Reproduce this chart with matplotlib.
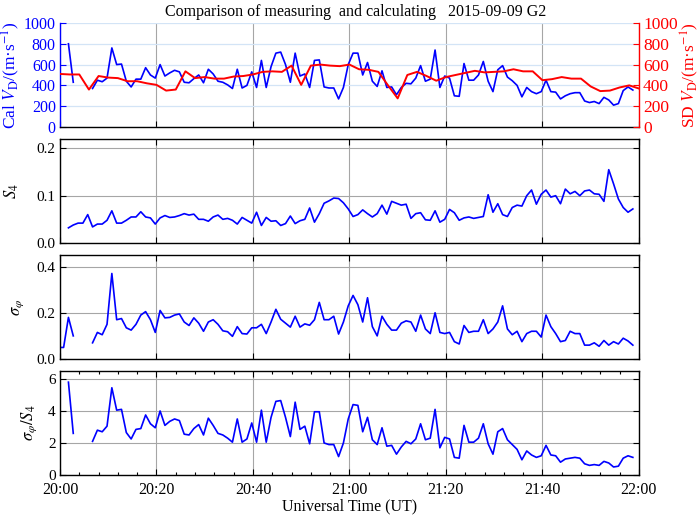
import numpy as np
import matplotlib
matplotlib.use('Agg')
import matplotlib.pyplot as plt
from matplotlib.ticker import MultipleLocator, FormatStrFormatter

plt.rcParams['font.family'] = ['Liberation Serif', 'DejaVu Serif']
plt.rcParams['mathtext.fontset'] = 'stix'
plt.rcParams['font.size'] = 11

nan = np.nan

# sample times, minutes after 20:00 UT (1-min data and 2-min SD data)
minutes = np.arange(120) - 0.25
sd_minutes = np.arange(0, 121, 2)

time_ticks = [0, 20, 40, 60, 80, 100, 120]
time_labels = ['20:00', '20:20', '20:40', '21:00', '21:20', '21:40', '22:00']

# calculated drift velocity (m/s)
cal_vd = [nan, nan, 800, 430, nan, nan, nan,
          370, 450, 435, 470, 760, 600, 605, 440, 385, 460, 460, 570, 500, 470,
          600, 490, 520, 545, 530, 430, 425, 465, 500, 425,
          555, 510, 440, 430, 405, 370, 555, 375, 400, 530,
          380, 640, 380, 580, 710, 720, 600, 430, 710, 490,
          510, 380, 640, 645, 385, 375, 375, 270, 380, 600,
          710, 710, 500, 620, 440, 390, 540, 380, 385, 310,
          380, 420, 415, 470, 590, 440, 460, 740, 380, 490,
          470, 300, 295, 610, 450, 450, 500, 630, 440, 340,
          550, 590, 480, 445, 400, 290, 380, 340, 320, 340,
          450, 340, 335, 270, 300, 320, 330, 330, 250, 235,
          245, 225, 285, 260, 210, 225, 350, 385, 355]

# SD drift velocity (m/s), 2-min
sd_vd = [510, 505, 505, 360, 490, 475, 470, 440, 440, 420,
         405, 350, 360, 535, 470, 480, 465, 465, 485, 490,
         505, 530, 535, 530, 590, 405, 590, 600, 590, 585,
         600, 555, 550, 530, 400, 275, 500, 530, 490, 445,
         480, 500, 520, 540, 525, 530, 535, 555, 535, 535,
         450, 460, 480, 465, 465, 390, 345, 350, 380, 400, 370]

s4 = [nan, nan, 0.032, 0.038, 0.042, 0.042, 0.060, 0.034, 0.040, 0.040, 0.048,
      0.068, 0.042, 0.042, 0.048, 0.055, 0.055, 0.066, 0.055, 0.053, 0.040,
      0.053, 0.058, 0.054, 0.055, 0.058, 0.062, 0.059, 0.061, 0.050, 0.050,
      0.046, 0.055, 0.059, 0.050, 0.052, 0.048, 0.040, 0.054, 0.048, 0.042,
      0.065, 0.037, 0.054, 0.046, 0.047, 0.037, 0.041, 0.057, 0.041, 0.047,
      0.050, 0.074, 0.044, 0.062, 0.084, 0.089, 0.095, 0.094, 0.085, 0.072,
      0.056, 0.060, 0.070, 0.062, 0.055, 0.062, 0.080, 0.061, 0.088, 0.084,
      0.080, 0.082, 0.052, 0.062, 0.064, 0.049, 0.048, 0.068, 0.044, 0.050,
      0.071, 0.064, 0.048, 0.053, 0.055, 0.052, 0.054, 0.056, 0.102, 0.065,
      0.083, 0.060, 0.056, 0.075, 0.080, 0.078, 0.100, 0.112, 0.082, 0.103,
      0.112, 0.097, 0.100, 0.083, 0.114, 0.104, 0.109, 0.100, 0.110, 0.112,
      0.104, 0.103, 0.088, 0.155, 0.125, 0.093, 0.075, 0.065, 0.072]

sigma_phi = [0.05, 0.05, 0.18, 0.10, nan, nan, nan, 0.07, 0.115, 0.105, 0.15,
             0.37, 0.17, 0.175, 0.135, 0.125, 0.15, 0.19, 0.205, 0.17, 0.115,
             0.21, 0.178, 0.18, 0.19, 0.195, 0.16, 0.145, 0.178, 0.155, 0.12,
             0.16, 0.17, 0.15, 0.122, 0.118, 0.098, 0.14, 0.11, 0.108, 0.135,
             0.135, 0.15, 0.11, 0.16, 0.215, 0.172, 0.155, 0.138, 0.185, 0.138,
             0.152, 0.146, 0.17, 0.245, 0.17, 0.17, 0.185, 0.108, 0.16, 0.23,
             0.275, 0.235, 0.16, 0.265, 0.14, 0.10, 0.185, 0.15, 0.125, 0.125,
             0.155, 0.165, 0.16, 0.12, 0.19, 0.13, 0.11, 0.20, 0.115, 0.11,
             0.115, 0.075, 0.065, 0.145, 0.115, 0.12, 0.12, 0.17, 0.11, 0.13,
             0.16, 0.23, 0.13, 0.105, 0.12, 0.075, 0.11, 0.12, 0.12, 0.095,
             0.19, 0.14, 0.11, 0.075, 0.08, 0.12, 0.11, 0.11, 0.06, 0.06,
             0.07, 0.055, 0.08, 0.06, 0.075, 0.065, 0.09, 0.078, 0.06]

ratio = [nan, nan, 5.8, 2.6, nan, nan, nan, 2.1, 2.8, 2.7, 3.05,
         5.45, 4.05, 4.1, 2.65, 2.25, 2.85, 2.9, 3.75, 3.2, 2.95,
         4.0, 3.1, 3.35, 3.5, 3.4, 2.55, 2.5, 2.9, 3.15, 2.5,
         3.55, 3.1, 2.6, 2.5, 2.3, 2.05, 3.5, 2.05, 2.25, 3.25,
         2.05, 4.05, 2.05, 3.6, 4.6, 4.65, 3.6, 2.4, 4.55, 2.85,
         3.05, 1.95, 3.95, 3.95, 2.0, 1.9, 1.9, 1.15, 2.0, 3.5,
         4.4, 4.35, 2.7, 3.6, 2.2, 1.9, 2.95, 1.8, 1.85, 1.3,
         1.75, 2.1, 1.95, 2.25, 3.2, 2.2, 2.3, 4.1, 1.7, 2.35,
         2.25, 1.1, 1.05, 3.1, 2.05, 2.05, 2.3, 3.2, 1.95, 1.3,
         2.7, 2.9, 2.2, 1.9, 1.6, 0.95, 1.5, 1.25, 1.1, 1.2,
         1.85, 1.25, 1.2, 0.8, 1.0, 1.05, 1.1, 1.05, 0.7, 0.6,
         0.65, 0.6, 0.85, 0.75, 0.5, 0.55, 1.05, 1.2, 1.1]

grid_gray = '#a6a6a6'

fig = plt.figure(figsize=(7, 5.15), dpi=100)
left, width, height = 0.0857, 0.827, 0.202
bottoms = [0.7534, 0.5282, 0.3029, 0.0777]
axes = [fig.add_axes([left, b, width, height]) for b in bottoms]

for ax in axes:
    ax.set_xlim(0, 120)
    ax.set_xticks(time_ticks)
    ax.set_xticklabels(time_labels)
    ax.tick_params(direction='in', length=4, width=0.8, pad=3, labelsize=11)
    ax.tick_params(axis='x', labelsize=11.5, pad=5)
    ax.xaxis.grid(True, color=grid_gray, linewidth=0.8)
    ax.set_axisbelow(True)
    for s in ax.spines.values():
        s.set_linewidth(1.0)
for ax in axes[:3]:
    ax.tick_params(axis='x', labelbottom=False)
for ax in axes[1:]:
    ax.tick_params(top=True, right=True)
    ax.yaxis.grid(True, color=grid_gray, linewidth=0.8)

# top panel: calculated vs SD velocity
ax1 = axes[0]
ax1.plot(minutes, cal_vd, color='blue', linewidth=1.2)
ax1.set_ylim(0, 1000)
ax1.set_yticks([0, 200, 400, 600, 800, 1000])
ax1.yaxis.grid(True, color='#d3e4f6', linewidth=0.9)
ax1.tick_params(axis='y', colors='blue', labelsize=11.5)
ax1.spines['left'].set_color('blue')
ax1.spines['top'].set_visible(False)
ax1.spines['right'].set_visible(False)
ax1.set_ylabel('Cal $\\mathit{V}_{\\rm D}$/(m·s$^{-1}$)', color='blue', fontsize=12.5)
ax1.yaxis.set_label_coords(-0.066, 0.5)
ax1.set_title('Comparison of measuring  and calculating   2015-09-09 G2',
              fontsize=11.5, pad=5, x=0.511)

ax1r = ax1.twinx()
ax1r.plot(sd_minutes, sd_vd, color='red', linewidth=1.4)
ax1r.set_xlim(0, 120)
ax1r.set_ylim(0, 1000)
ax1r.set_yticks([0, 200, 400, 600, 800, 1000])
ax1r.tick_params(axis='y', colors='red', direction='in', length=4, width=0.8, pad=3, labelsize=12.5)
for name in ['left', 'top', 'bottom']:
    ax1r.spines[name].set_visible(False)
ax1r.spines['right'].set_color('red')
ax1r.spines['right'].set_linewidth(1.0)
ax1r.set_ylabel('SD $\\mathit{V}_{\\rm D}$/(m·s$^{-1}$)', color='red', fontsize=12.5)
ax1r.yaxis.set_label_coords(1.068, 0.5)

# S4
ax2 = axes[1]
ax2.plot(minutes, s4, color='blue', linewidth=1.2)
ax2.set_ylim(0, 0.22)
ax2.set_yticks([0, 0.1, 0.2])
ax2.yaxis.set_major_formatter(FormatStrFormatter('%.1f'))
ax2.set_ylabel('$S_4$', fontsize=12)
ax2.yaxis.set_label_coords(-0.068, 0.5)

# sigma phi
ax3 = axes[2]
ax3.plot(minutes, sigma_phi, color='blue', linewidth=1.2)
ax3.set_ylim(0, 0.45)
ax3.set_yticks([0, 0.2, 0.4])
ax3.yaxis.set_major_formatter(FormatStrFormatter('%.1f'))
ax3.set_ylabel('$\\sigma_{\\varphi}$', fontsize=12)
ax3.yaxis.set_label_coords(-0.059, 0.5)

# ratio
ax4 = axes[3]
ax4.plot(minutes, ratio, color='blue', linewidth=1.2)
ax4.set_ylim(0, 6.5)
ax4.set_yticks([0, 2, 4, 6])
ax4.xaxis.set_minor_locator(MultipleLocator(4))
ax4.tick_params(which='minor', direction='in', length=2.5, width=0.8, top=True)
ax4.set_ylabel('$\\sigma_{\\varphi}/S_4$', fontsize=12)
ax4.yaxis.set_label_coords(-0.036, 0.5)
ax4.set_xlabel('Universal Time (UT)', fontsize=11.5, labelpad=0)

fig.savefig('out.png', dpi=100)
